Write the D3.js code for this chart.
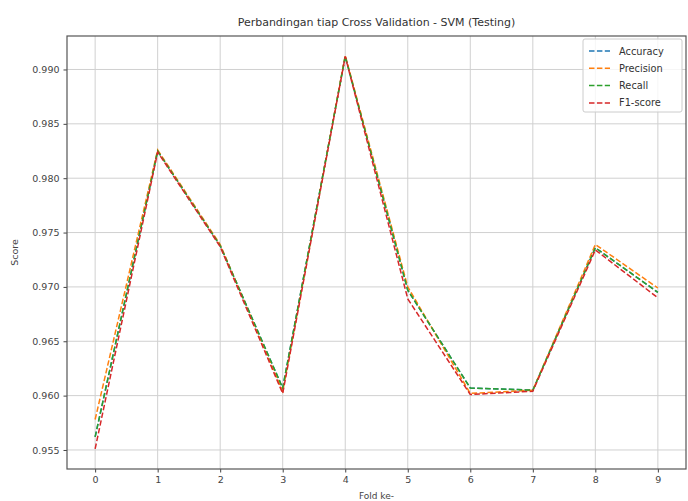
<!DOCTYPE html>
<html>
<head>
<meta charset="utf-8">
<script src="https://cdn.jsdelivr.net/npm/d3@7/dist/d3.min.js"></script>
<style>
  html, body { margin: 0; padding: 0; background: #fff; }
  svg { display: block; }
  text { font-family: "DejaVu Sans", sans-serif; }
</style>
</head>
<body>
<div id="chart"></div>
<script>
const folds = [0, 1, 2, 3, 4, 5, 6, 7, 8, 9];
const accuracy  = [0.9562, 0.9825, 0.9738, 0.9607, 0.9912, 0.9697, 0.9607, 0.9605, 0.9736, 0.9695];
const precision = [0.9578, 0.9826, 0.9739, 0.9604, 0.9913, 0.9700, 0.9602, 0.9605, 0.9739, 0.9699];
const recall    = [0.9562, 0.9825, 0.9738, 0.9607, 0.9912, 0.9697, 0.9607, 0.9605, 0.9736, 0.9695];
const f1score   = [0.9551, 0.9824, 0.9737, 0.9602, 0.9912, 0.9689, 0.9601, 0.9604, 0.9734, 0.9690];
const seriesNames = ["Accuracy", "Precision", "Recall", "F1-score"];
const colors = ["#1f77b4", "#ff7f0e", "#2ca02c", "#d62728"];
const yTicks = [0.955, 0.960, 0.965, 0.970, 0.975, 0.980, 0.985, 0.990];
const title = "Perbandingan tiap Cross Validation - SVM (Testing)";
const xLabel = "Fold ke-";
const yLabel = "Score";

const W = 688, H = 501;
const m = { left: 67, right: 2, top: 36, bottom: 32 };
const series = [accuracy, precision, recall, f1score];

const svg = d3.select("#chart").append("svg").attr("width", W).attr("height", H);

const x = d3.scaleLinear().domain([-0.45, 9.45]).range([m.left, W - m.right]);
const y = d3.scaleLinear().domain([0.95325, 0.99308]).range([H - m.bottom, m.top]);

// grid
const g = svg.append("g");
g.selectAll(".gx").data(folds).enter().append("line")
  .attr("x1", d => x(d)).attr("x2", d => x(d))
  .attr("y1", m.top).attr("y2", H - m.bottom)
  .attr("stroke", "#d0d0d0").attr("stroke-width", 1);
g.selectAll(".gy").data(yTicks).enter().append("line")
  .attr("x1", m.left).attr("x2", W - m.right)
  .attr("y1", d => y(d)).attr("y2", d => y(d))
  .attr("stroke", "#d0d0d0").attr("stroke-width", 1);

// lines
const line = d3.line().x((d, i) => x(folds[i])).y(d => y(d));
series.forEach((s, k) => {
  svg.append("path").datum(s)
    .attr("d", line)
    .attr("fill", "none")
    .attr("stroke", colors[k])
    .attr("stroke-width", 1.5)
    .attr("stroke-dasharray", "5.5,2.4");
});

// axes
const xAxis = d3.axisBottom(x).tickValues(folds).tickFormat(d3.format("d")).tickSize(3.5).tickPadding(4);
const yAxis = d3.axisLeft(y).tickValues(yTicks).tickFormat(d3.format(".3f")).tickSize(3.5).tickPadding(4);
const ax = svg.append("g").attr("transform", `translate(0,${H - m.bottom})`).call(xAxis);
const ay = svg.append("g").attr("transform", `translate(${m.left},0)`).call(yAxis);
[ax, ay].forEach(a => {
  a.select(".domain").remove();
  a.selectAll("line").attr("stroke", "#444");
  a.selectAll("text").attr("font-size", 9.5).attr("fill", "#444").attr("font-family", "DejaVu Sans");
});

// frame
svg.append("rect").attr("x", m.left).attr("y", m.top)
  .attr("width", W - m.right - m.left).attr("height", H - m.bottom - m.top)
  .attr("fill", "none").attr("stroke", "#555").attr("stroke-width", 1.2);

// title & labels
svg.append("text").attr("x", (m.left + W - m.right) / 2).attr("y", 26)
  .attr("text-anchor", "middle").attr("font-size", 11).attr("fill", "#333").text(title);
svg.append("text").attr("x", (m.left + W - m.right) / 2).attr("y", 499)
  .attr("text-anchor", "middle").attr("font-size", 9).attr("fill", "#444").text(xLabel);
svg.append("text").attr("transform", `translate(18,${(m.top + H - m.bottom) / 2}) rotate(-90)`)
  .attr("text-anchor", "middle").attr("font-size", 9.5).attr("fill", "#444").text(yLabel);

// legend
const lg = svg.append("g");
lg.append("rect").attr("x", 583).attr("y", 39).attr("width", 99).attr("height", 73)
  .attr("rx", 2).attr("fill", "#fff").attr("fill-opacity", 0.8).attr("stroke", "#ccc");
seriesNames.forEach((name, k) => {
  const yy = 51 + k * 17.3;
  lg.append("line").attr("x1", 589).attr("x2", 610).attr("y1", yy).attr("y2", yy)
    .attr("stroke", colors[k]).attr("stroke-width", 1.5).attr("stroke-dasharray", "5.5,2.4");
  lg.append("text").attr("x", 619).attr("y", yy + 3.5).attr("font-size", 9.8).attr("fill", "#333").text(name);
});
</script>
</body>
</html>
